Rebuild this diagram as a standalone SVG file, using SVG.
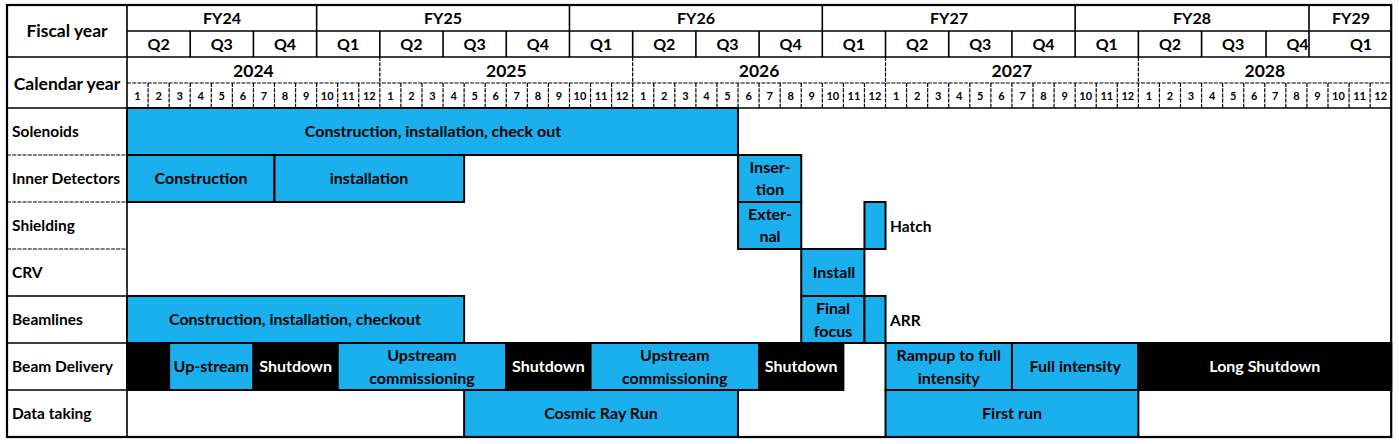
<svg xmlns="http://www.w3.org/2000/svg" width="1399" height="444" viewBox="0 0 1399 444">
<style>
text{font-family:Lato,"Open Sans","Liberation Sans",sans-serif;font-weight:bold;fill:#000}
.h{font-size:16px;text-anchor:middle}
.hl{font-size:17.5px;text-anchor:middle}
.yr{font-size:17.5px;text-anchor:middle}
.lbl{font-size:15.5px}
.mo{font-size:11px;text-anchor:middle}
.c{font-size:16px;text-anchor:middle}
.w{fill:#fff}
.grid{stroke:#000;stroke-width:1.6;fill:none}
.dash{stroke:#000;stroke-width:1.2;stroke-dasharray:4 1.2;fill:none}
.blue{fill:#1ab0ee;stroke:#000;stroke-width:2}
.blk{fill:#000;stroke:#000;stroke-width:2}
</style>
<rect x="0" y="0" width="1399" height="444" fill="#fff"/>

<g id="header">
<path class="grid" d="M127 31H1391M7 57H1391M7 108H1391M127 5V437"/>
<path class="grid" d="M316.63 5V57M569.47 5V57M822.31 5V57M1075.15 5V57M1309 5V57"/>
<path class="grid" d="M190.21 31V57M253.42 31V57M379.84 31V57M443.05 31V57M506.26 31V57M632.68 31V57M695.89 31V57M759.1 31V57M885.52 31V57M948.73 31V57M1011.94 31V57M1138.36 31V57M1201.57 31V57M1266 31V57"/>
<path class="dash" d="M127 83H1391M379.84 57V83M632.68 57V83M885.52 57V83M1138.36 57V83"/>
<path class="dash" d="M148.07 83V108M169.14 83V108M190.21 83V108M211.28 83V108M232.35 83V108M253.42 83V108M274.49 83V108M295.56 83V108M316.63 83V108M337.7 83V108M358.77 83V108M379.84 83V108M400.91 83V108M421.98 83V108M443.05 83V108M464.12 83V108M485.19 83V108M506.26 83V108M527.33 83V108M548.4 83V108M569.47 83V108M590.54 83V108M611.61 83V108M632.68 83V108M653.75 83V108M674.82 83V108M695.89 83V108M716.96 83V108M738.03 83V108M759.1 83V108M780.17 83V108M801.24 83V108M822.31 83V108M843.38 83V108M864.45 83V108M885.52 83V108M906.59 83V108M927.66 83V108M948.73 83V108M969.8 83V108M990.87 83V108M1011.94 83V108M1033.01 83V108M1054.08 83V108M1075.15 83V108M1096.22 83V108M1117.29 83V108M1138.36 83V108M1159.43 83V108M1180.5 83V108M1201.57 83V108M1222.64 83V108M1243.71 83V108M1264.78 83V108M1285.85 83V108M1306.92 83V108M1327.99 83V108M1349.06 83V108M1370.13 83V108"/>
<text class="hl" x="67" y="37">Fiscal year</text>
<text class="hl" x="67" y="90">Calendar year</text>
<text class="h" x="222" y="24">FY24</text>
<text class="h" x="443" y="24">FY25</text>
<text class="h" x="696" y="24">FY26</text>
<text class="h" x="949" y="24">FY27</text>
<text class="h" x="1192" y="24">FY28</text>
<text class="h" x="1351" y="24">FY29</text>
<text class="h" x="158.6" y="50">Q2</text>
<text class="h" x="221.8" y="50">Q3</text>
<text class="h" x="285" y="50">Q4</text>
<text class="h" x="348.2" y="50">Q1</text>
<text class="h" x="411.4" y="50">Q2</text>
<text class="h" x="474.7" y="50">Q3</text>
<text class="h" x="537.9" y="50">Q4</text>
<text class="h" x="601.1" y="50">Q1</text>
<text class="h" x="664.3" y="50">Q2</text>
<text class="h" x="727.5" y="50">Q3</text>
<text class="h" x="790.7" y="50">Q4</text>
<text class="h" x="853.9" y="50">Q1</text>
<text class="h" x="917.1" y="50">Q2</text>
<text class="h" x="980.3" y="50">Q3</text>
<text class="h" x="1043.5" y="50">Q4</text>
<text class="h" x="1106.8" y="50">Q1</text>
<text class="h" x="1170" y="50">Q2</text>
<text class="h" x="1233.2" y="50">Q3</text>
<text class="h" x="1297.5" y="50">Q4</text>
<text class="h" x="1361" y="50">Q1</text>
<text class="yr" x="253.4" y="77">2024</text>
<text class="yr" x="506.3" y="77">2025</text>
<text class="yr" x="759.1" y="77">2026</text>
<text class="yr" x="1011.9" y="77">2027</text>
<text class="yr" x="1264.8" y="77">2028</text>
<g class="mo">
<text x="137.5" y="100">1</text><text x="158.6" y="100">2</text><text x="179.7" y="100">3</text><text x="200.7" y="100">4</text><text x="221.8" y="100">5</text><text x="242.9" y="100">6</text><text x="264" y="100">7</text><text x="285" y="100">8</text><text x="306.1" y="100">9</text><text x="327.2" y="100">10</text><text x="348.2" y="100">11</text><text x="369.3" y="100">12</text>
<text x="390.4" y="100">1</text><text x="411.4" y="100">2</text><text x="432.5" y="100">3</text><text x="453.6" y="100">4</text><text x="474.7" y="100">5</text><text x="495.7" y="100">6</text><text x="516.8" y="100">7</text><text x="537.9" y="100">8</text><text x="558.9" y="100">9</text><text x="580" y="100">10</text><text x="601.1" y="100">11</text><text x="622.1" y="100">12</text>
<text x="643.2" y="100">1</text><text x="664.3" y="100">2</text><text x="685.4" y="100">3</text><text x="706.4" y="100">4</text><text x="727.5" y="100">5</text><text x="748.6" y="100">6</text><text x="769.6" y="100">7</text><text x="790.7" y="100">8</text><text x="811.8" y="100">9</text><text x="832.8" y="100">10</text><text x="853.9" y="100">11</text><text x="875" y="100">12</text>
<text x="896.1" y="100">1</text><text x="917.1" y="100">2</text><text x="938.2" y="100">3</text><text x="959.3" y="100">4</text><text x="980.3" y="100">5</text><text x="1001.4" y="100">6</text><text x="1022.5" y="100">7</text><text x="1043.5" y="100">8</text><text x="1064.6" y="100">9</text><text x="1085.7" y="100">10</text><text x="1106.8" y="100">11</text><text x="1127.8" y="100">12</text>
<text x="1148.9" y="100">1</text><text x="1170" y="100">2</text><text x="1191" y="100">3</text><text x="1212.1" y="100">4</text><text x="1233.2" y="100">5</text><text x="1254.2" y="100">6</text><text x="1275.3" y="100">7</text><text x="1296.4" y="100">8</text><text x="1317.5" y="100">9</text><text x="1338.5" y="100">10</text><text x="1359.6" y="100">11</text><text x="1380.7" y="100">12</text>
</g>
</g>

<g id="row-labels">
<path class="dash" d="M7 155H127M7 202H127M7 249H127"/>
<path class="grid" d="M7 296H127M7 390H127"/>
<text class="lbl" x="12" y="137">Solenoids</text>
<text class="lbl" x="12" y="184">Inner Detectors</text>
<text class="lbl" x="12" y="231">Shielding</text>
<text class="lbl" x="12" y="278">CRV</text>
<text class="lbl" x="12" y="325">Beamlines</text>
<text class="lbl" x="12" y="372">Beam Delivery</text>
<text class="lbl" x="12" y="419">Data taking</text>
</g>

<g id="connectors">
<path class="grid" d="M7 343H1391"/>
</g>

<g id="solenoids">
<rect class="blue" x="127" y="108" width="611.03" height="47"/>
<text class="c" x="433" y="137">Construction, installation, check out</text>
</g>

<g id="inner-detectors">
<rect class="blue" x="127" y="155" width="147.49" height="47"/>
<text class="c" x="201" y="184">Construction</text>
<rect class="blue" x="274.49" y="155" width="189.63" height="47"/>
<text class="c" x="369" y="184">installation</text>
<rect class="blue" x="738.03" y="155" width="63.21" height="47"/>
<text class="c" x="770" y="173">Inser-</text>
<text class="c" x="770" y="195">tion</text>
</g>

<g id="shielding">
<rect class="blue" x="738.03" y="202" width="63.21" height="47"/>
<text class="c" x="770" y="220">Exter-</text>
<text class="c" x="770" y="242">nal</text>
<rect class="blue" x="864.45" y="202" width="21.07" height="47"/>
<text class="lbl" x="890" y="232">Hatch</text>
</g>

<g id="crv">
<rect class="blue" x="801.24" y="249" width="63.21" height="47"/>
<text class="c" x="834" y="278">Install</text>
</g>

<g id="beamlines">
<rect class="blue" x="127" y="296" width="337.12" height="47"/>
<text class="c" x="295" y="325">Construction, installation, checkout</text>
<rect class="blue" x="801.24" y="296" width="63.21" height="47"/>
<text class="c" x="833" y="314">Final</text>
<text class="c" x="833" y="337">focus</text>
<rect class="blue" x="864.45" y="296" width="21.07" height="47"/>
<text class="lbl" x="890" y="326">ARR</text>
</g>

<g id="beam-delivery">
<rect class="blk" x="127" y="343" width="42.14" height="47"/>
<rect class="blue" x="169.14" y="343" width="84.28" height="47"/>
<text class="c" x="211.3" y="372">Up-stream</text>
<rect class="blk" x="253.42" y="343" width="84.28" height="47"/>
<text class="c w" x="295.6" y="372">Shutdown</text>
<rect class="blue" x="337.7" y="343" width="168.56" height="47"/>
<text class="c" x="422" y="361">Upstream</text>
<text class="c" x="422" y="384">commissioning</text>
<rect class="blk" x="506.26" y="343" width="84.28" height="47"/>
<text class="c w" x="548.4" y="372">Shutdown</text>
<rect class="blue" x="590.54" y="343" width="168.56" height="47"/>
<text class="c" x="674.8" y="361">Upstream</text>
<text class="c" x="674.8" y="384">commissioning</text>
<rect class="blk" x="759.1" y="343" width="84.28" height="47"/>
<text class="c w" x="801.2" y="372">Shutdown</text>
<rect class="blue" x="885.52" y="343" width="126.42" height="47"/>
<text class="c" x="948.7" y="361">Rampup to full</text>
<text class="c" x="948.7" y="384">intensity</text>
<rect class="blue" x="1011.94" y="343" width="126.42" height="47"/>
<text class="c" x="1075.2" y="372">Full intensity</text>
<rect class="blk" x="1138.36" y="343" width="252.84" height="47"/>
<text class="c w" x="1264.8" y="372">Long Shutdown</text>
</g>

<g id="data-taking">
<rect class="blue" x="464.12" y="390" width="273.91" height="47"/>
<text class="c" x="601" y="419">Cosmic Ray Run</text>
<rect class="blue" x="885.52" y="390" width="252.84" height="47"/>
<text class="c" x="1012" y="419">First run</text>
</g>

<rect x="7" y="5" width="1384.2" height="432" fill="none" stroke="#000" stroke-width="2.2"/>
</svg>
